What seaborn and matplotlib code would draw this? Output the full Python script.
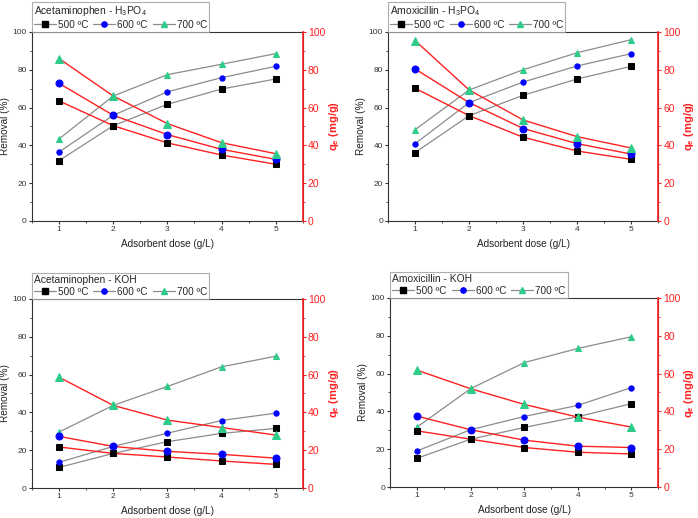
import matplotlib
matplotlib.use("Agg")
import matplotlib.pyplot as plt
import seaborn as sns
import numpy as np
from matplotlib.lines import Line2D
from matplotlib.ticker import MultipleLocator

# adsorbent dose (g/L)
dose = [1, 2, 3, 4, 5]
temps = ["500 \u00baC", "600 \u00baC", "700 \u00baC"]

# Acetaminophen - H3PO4
aceH_rem = [[31.9, 50.4, 61.7, 69.8, 75.1],
            [36.5, 55.9, 68.3, 75.8, 81.8],
            [43.4, 66.1, 77.4, 82.9, 88.5]]
aceH_qe = [[63.5, 50.4, 41.3, 34.9, 30.0],
           [72.8, 55.9, 45.7, 37.9, 32.6],
           [85.9, 66.1, 51.5, 41.4, 35.6]]

# Amoxicillin - H3PO4
amoxH_rem = [[36.2, 55.7, 66.5, 75.1, 81.8],
             [40.9, 62.6, 73.5, 82.0, 88.5],
             [48.3, 69.3, 80.0, 89.0, 95.9]]
amoxH_qe = [[70.2, 55.7, 44.3, 37.0, 32.6],
            [80.4, 62.6, 48.9, 40.9, 35.4],
            [95.4, 69.3, 53.4, 44.6, 38.6]]

# Acetaminophen - KOH
aceK_rem = [[10.9, 18.3, 24.5, 28.9, 31.5],
            [13.6, 22.0, 29.0, 35.7, 39.6],
            [29.6, 43.7, 53.7, 64.1, 69.7]]
aceK_qe = [[21.7, 18.3, 16.4, 14.3, 12.5],
           [27.3, 22.0, 19.4, 17.8, 15.8],
           [58.6, 43.7, 35.9, 32.0, 28.0]]

# Amoxicillin - KOH
amoxK_rem = [[15.2, 25.3, 31.5, 37.2, 44.1],
             [19.1, 30.3, 37.3, 43.2, 52.6],
             [31.7, 52.0, 65.8, 73.3, 79.5]]
amoxK_qe = [[29.7, 25.3, 20.9, 18.4, 17.5],
            [37.5, 30.3, 24.8, 21.6, 20.9],
            [61.8, 52.0, 43.7, 37.0, 31.7]]

titles = ["Acetaminophen - H$_3$PO$_4$", "Amoxicillin - H$_3$PO$_4$",
          "Acetaminophen - KOH", "Amoxicillin - KOH"]
removals = [aceH_rem, amoxH_rem, aceK_rem, amoxK_rem]
qes = [aceH_qe, amoxH_qe, aceK_qe, amoxK_qe]

markers = ["s", "o", "^"]
mcolors = ["black", "#0000ff", "#2ecc8a"]
msize_gray = [3.8, 3.8, 4.8]
msize_red = [5.0, 5.0, 6.0]
gray = "#8c8c8c"
red = "#ff2020"

sns.set_style("ticks")
plt.rcParams["font.family"] = ["Liberation Sans", "DejaVu Sans"]
plt.rcParams["mathtext.fontset"] = "custom"
plt.rcParams["mathtext.rm"] = "Liberation Sans"
plt.rcParams["mathtext.it"] = "Liberation Sans:italic"
plt.rcParams["mathtext.bf"] = "Liberation Sans:bold"

fig = plt.figure(figsize=(6.98, 5.18), dpi=100)
positions = [[0.0458, 0.5734, 0.388, 0.365],
             [0.5560, 0.5734, 0.3870, 0.365],
             [0.0458, 0.0579, 0.388, 0.365],
             [0.5590, 0.0598, 0.3840, 0.365]]

for k in range(4):
    ax = fig.add_axes(positions[k])
    ax2 = ax.twinx()
    for i in range(3):
        sns.lineplot(x=dose, y=removals[k][i], ax=ax, color=gray, lw=0.9,
                     marker=markers[i], markersize=msize_gray[i],
                     markerfacecolor=mcolors[i], markeredgecolor=mcolors[i])
        sns.lineplot(x=dose, y=qes[k][i], ax=ax2, color=red, lw=1.0,
                     marker=markers[i], markersize=msize_red[i],
                     markerfacecolor=mcolors[i], markeredgecolor=mcolors[i])
    ax.set_xlim(0.5, 5.5)
    ax.set_ylim(0, 100)
    ax2.set_ylim(0, 100)
    ax.set_xticks(dose)
    ax.xaxis.set_minor_locator(MultipleLocator(0.5))
    ax.yaxis.set_major_locator(MultipleLocator(20))
    ax.yaxis.set_minor_locator(MultipleLocator(10))
    ax2.yaxis.set_major_locator(MultipleLocator(20))
    ax2.yaxis.set_minor_locator(MultipleLocator(10))

    ax.tick_params(axis="both", which="major", length=2.2, width=0.8,
                   labelsize=6, colors="#333333", pad=1.5)
    ax.tick_params(axis="both", which="minor", length=1.5, width=0.6, color="#333333")
    ax2.tick_params(axis="y", which="major", length=2.5, width=0.8,
                    labelsize=7.5, colors=red, pad=1.2)
    ax2.tick_params(axis="y", which="minor", length=1.5, width=0.6, colors=red)
    for s in ["top", "right"]:
        ax.spines[s].set_visible(True)
    for s in ax.spines.values():
        s.set_color("#333333")
        s.set_linewidth(0.8)
    ax2.spines["right"].set_color(red)
    ax2.spines["right"].set_linewidth(1.2)
    ax2.spines["top"].set_visible(False)
    ax2.spines["left"].set_visible(False)
    ax2.spines["bottom"].set_visible(False)

    ax.set_xlabel("Adsorbent dose (g/L)", fontsize=7.2, color="#222222", labelpad=4)
    ax.set_ylabel("Removal (%)", fontsize=7.2, color="#222222", labelpad=2)
    ax2.set_ylabel("q$_\\mathbf{e}$ (mg/g)", fontsize=8, color=red,
                   fontweight="bold", labelpad=1)

    handles = [Line2D([0], [0], color=gray, lw=0.9, marker=markers[i],
                      markersize=msize_gray[i], markerfacecolor=mcolors[i],
                      markeredgecolor=mcolors[i]) for i in range(3)]
    leg = ax.legend(handles, temps, title=titles[k], ncol=3, loc="lower left",
                    bbox_to_anchor=(0, 1), borderaxespad=0, fontsize=7.2,
                    title_fontsize=7.4, alignment="left", frameon=True,
                    fancybox=False, edgecolor="#999999", handlelength=2.2,
                    handletextpad=0.2, columnspacing=0.5, borderpad=0.2,
                    labelspacing=0.2)
    leg.get_frame().set_linewidth(0.8)
    leg.set_zorder(10)

fig.savefig("out.png", dpi=100)
